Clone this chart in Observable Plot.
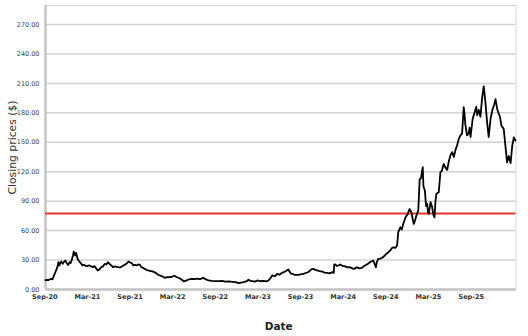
<!DOCTYPE html>
<html>
<head>
<meta charset="utf-8">
<script src="https://cdn.jsdelivr.net/npm/d3@7"></script>
<script src="https://cdn.jsdelivr.net/npm/@observablehq/plot@0.6"></script>
<style>
  html, body { margin: 0; padding: 0; background: #fff; }
</style>
</head>
<body>
<div id="chart"></div>
<script>
const dates = [
"2020-09-30","2020-10-03","2020-10-12","2020-10-24","2020-10-30","2020-11-04","2020-11-09","2020-11-14","2020-11-19","2020-11-24",
"2020-11-28","2020-12-02","2020-12-06","2020-12-12","2020-12-17","2020-12-23","2020-12-31","2021-01-05","2021-01-10","2021-01-15",
"2021-01-20","2021-01-25","2021-01-28","2021-02-03","2021-02-07","2021-02-14","2021-02-21","2021-03-01","2021-03-06","2021-03-12",
"2021-03-17","2021-03-22","2021-03-29","2021-04-05","2021-04-12","2021-04-19","2021-04-26","2021-05-03","2021-05-10","2021-05-17",
"2021-05-25","2021-06-01","2021-06-08","2021-06-15","2021-06-22","2021-07-03","2021-07-08","2021-07-13","2021-07-22","2021-08-03",
"2021-08-13","2021-08-20","2021-08-27","2021-09-03","2021-09-10","2021-09-17","2021-09-24","2021-10-01","2021-10-08","2021-10-15",
"2021-10-22","2021-10-29","2021-11-05","2021-11-11","2021-11-19","2021-11-29","2021-12-09","2021-12-17","2021-12-28","2022-01-05",
"2022-01-14","2022-01-21","2022-01-28","2022-02-07","2022-02-18","2022-02-28","2022-03-11","2022-03-21","2022-03-31","2022-04-11",
"2022-04-22","2022-05-02","2022-05-11","2022-05-20","2022-05-31","2022-06-14","2022-06-24","2022-07-06","2022-07-18","2022-08-01",
"2022-08-10","2022-08-23","2022-09-06","2022-09-22","2022-10-05","2022-10-20","2022-11-03","2022-11-16","2022-12-02","2022-12-16",
"2022-12-29","2023-01-09","2023-01-19","2023-01-30","2023-02-09","2023-02-17","2023-02-26","2023-03-08","2023-03-19","2023-03-30",
"2023-04-14","2023-04-25","2023-05-05","2023-05-10","2023-05-21","2023-06-01","2023-06-11","2023-06-20","2023-07-02","2023-07-15",
"2023-07-28","2023-08-07","2023-08-14","2023-08-25","2023-09-08","2023-09-18","2023-09-30","2023-10-10","2023-10-21","2023-11-03",
"2023-11-11","2023-11-20","2023-11-28","2023-12-08","2023-12-19","2023-12-29","2024-01-09","2024-01-20","2024-01-31","2024-02-06",
"2024-02-08","2024-02-12","2024-02-20","2024-03-05","2024-03-15","2024-03-26","2024-04-05","2024-04-16","2024-04-25","2024-05-03",
"2024-05-15","2024-05-24","2024-06-05","2024-06-14","2024-06-26","2024-07-10","2024-07-23","2024-08-03","2024-08-07","2024-08-13",
"2024-08-23","2024-09-03","2024-09-13","2024-09-25","2024-10-04","2024-10-11","2024-10-18","2024-10-25","2024-11-01","2024-11-06",
"2024-11-15","2024-11-21","2024-11-27","2024-12-07","2024-12-16","2024-12-24","2025-01-01","2025-01-06","2025-01-11","2025-01-16",
"2025-01-22","2025-01-30","2025-02-05","2025-02-10","2025-02-18","2025-02-21","2025-02-27","2025-03-04","2025-03-09","2025-03-12",
"2025-03-16","2025-03-23","2025-03-30","2025-04-04","2025-04-09","2025-04-13","2025-04-17","2025-04-27","2025-05-04","2025-05-10",
"2025-05-18","2025-05-26","2025-06-02","2025-06-09","2025-06-16","2025-06-23","2025-06-30","2025-07-07","2025-07-14","2025-07-21",
"2025-07-28","2025-08-04","2025-08-11","2025-08-14","2025-08-18","2025-08-25","2025-09-01","2025-09-05","2025-09-09","2025-09-18",
"2025-09-27","2025-10-03","2025-10-07","2025-10-14","2025-10-21","2025-10-28","2025-11-04","2025-11-11","2025-11-18","2025-11-25",
"2025-12-03","2025-12-12","2025-12-18","2025-12-24","2025-12-31","2026-01-07","2026-01-12","2026-01-18","2026-01-28","2026-02-04",
"2026-02-11","2026-02-18","2026-02-26","2026-03-05","2026-03-12","2026-03-19"
];
const closes = [
9.5,9.9,9.6,10.9,10.4,13.6,16.5,19.4,22.5,27.8,
24.5,27,28.5,26.1,28,29.5,26.1,25,27.8,27,
30.6,35,38.7,34.6,37.3,30.6,28.5,26.1,24.5,25.1,
24.5,23.8,24.2,24.5,23.5,22.8,23.8,21.5,19.4,20.5,
22.8,23.5,26.1,25.5,27.8,25.1,24.2,22.8,23.5,22.8,
22.5,23.5,24.5,25.5,26.5,28.5,27.5,27,24.5,25,
24.5,25.5,25,22.8,22,20.5,19.4,19,18.5,17.7,
16.5,15,14.3,13.5,11.9,12.5,12.6,13,14,12.5,
11.5,10,8.2,9,10.2,10.9,10.5,11,10.5,11.9,
10.5,9.2,8.8,8.5,8.6,8.8,8.0,8.2,7.8,7.5,
6.5,7,7.5,8.2,9.9,8.8,8.5,8.0,9.2,8.4,
8.8,8.3,9.2,10.5,14.3,13.5,16,15,17,18.3,
20.4,16.5,16,14.8,15,15.5,16,16.8,17.7,20.5,
21,20,19.4,18.8,18.3,17.2,17,16.5,17.7,17,
25.5,25.5,24,25.5,24,23.6,22.5,22.7,21.5,21,
22.7,21.5,22,24,25.5,28,29.5,22.7,28,31.2,
31.5,33,35.5,38,40,42.5,43,42.5,44.8,58.4,
63.4,61,66.8,73.6,77,82,78.6,72,66.8,70,
75.3,80.4,112.6,113,124.6,105,100.9,85,87.3,79,
77,89,84,76,73.6,90,97.5,99.2,119.5,121,
128,124,121.9,131,137,140,135,142,147,153.5,
157,158.8,185.7,180,168,157,159,165,155.4,174,
181,186,177.7,183,176,195,207,191.5,171,155.4,
174,184,188,194,184,179,176,167,163.5,146.5,
129.5,136,128.8,146.5,155,151.7
];
const referenceLevel = 77.5;
const yTicks = [0,30,60,90,120,150,180,210,240,270];
const xTickDates = ["2020-09-27","2021-03-27","2021-09-24","2022-03-24","2022-09-21","2023-03-21","2023-09-18","2024-03-17","2024-09-14","2025-03-14","2025-09-12"];
const xDomain = ["2020-09-30","2026-03-21"];
const yDomain = [0, 289.4];

const parse = d3.utcParse("%Y-%m-%d");
const data = dates.map((d, i) => ({date: parse(d), close: closes[i]}));
const xt = xTickDates.map(parse);
const fmtX = d3.utcFormat("%b-%y");

const font = "DejaVu Sans, sans-serif";

const chart = Plot.plot({
  width: 528,
  height: 336,
  marginLeft: 45,
  marginRight: 12.5,
  marginTop: 5,
  marginBottom: 47,
  style: {fontFamily: font, background: "#fff", overflow: "visible"},
  x: {type: "utc", domain: xDomain.map(parse)},
  y: {domain: yDomain},
  marks: [
    Plot.frame({stroke: "#d4d4d4", strokeWidth: 1}),
    Plot.gridY(yTicks, {stroke: "#d2d2d2", strokeOpacity: 1, strokeWidth: 1.5}),
    Plot.ruleX([parse(xDomain[0])], {stroke: "#c4c4c4", strokeWidth: 2.5}),
    Plot.ruleY([0], {stroke: "#c4c4c4", strokeWidth: 2.5}),
    Plot.ruleY([referenceLevel], {stroke: "#e8352b", strokeWidth: 2}),
    Plot.lineY(data, {x: "date", y: "close", stroke: "#000", strokeWidth: 1.8}),
    Plot.axisY({ticks: yTicks, tickFormat: d => d.toFixed(2), tickSize: 0, tickPadding: 6, fontSize: 6.5, fill: "#444", label: null}),
    Plot.axisX({ticks: xt, tickFormat: fmtX, tickSize: 0, tickPadding: 5, fontSize: 6.5, fontWeight: "bold", fill: "#333", label: null}),
    Plot.text(["Closing prices ($)"], {frameAnchor: "left", dx: -33, rotate: -90, textAnchor: "middle", lineAnchor: "middle", fontSize: 10.8, fill: "#333"}),
    Plot.text(["Date"], {frameAnchor: "bottom", dy: 37, dx: -2, textAnchor: "middle", lineAnchor: "middle", fontSize: 10.5, fill: "#222", fontWeight: "bold"})
  ]
});
document.getElementById("chart").appendChild(chart);
</script>
</body>
</html>
